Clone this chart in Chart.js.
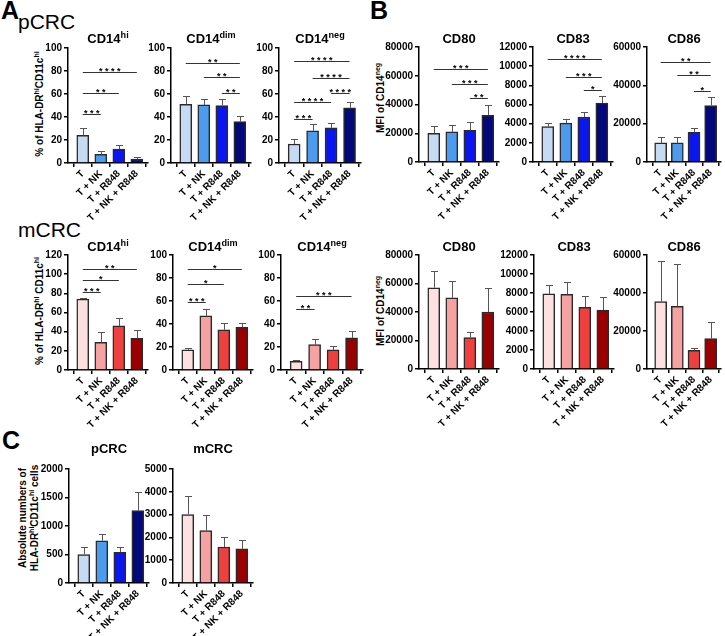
<!DOCTYPE html>
<html>
<head>
<meta charset="utf-8">
<script src="https://cdn.jsdelivr.net/npm/chart.js@4.4.0/dist/chart.umd.min.js"></script>
<style>
  body { margin: 0; background: #fff; font-family: Arial, "Liberation Sans", sans-serif; }
  #fig { position: relative; width: 725px; height: 636px; overflow: hidden; }
  canvas { position: absolute; }
  .t { position: absolute; white-space: nowrap; color: #000; }
  .title { font-weight: bold; font-size: 13px; transform: translate(-50%, -100%); }
  .ylab { font-weight: bold; font-size: 10px; transform: translate(-50%, -50%) rotate(-90deg); text-align: center; line-height: 12px; }
  .letter { font-weight: bold; font-size: 25px; }
  .grp { font-size: 21px; }
  sup { font-size: 70%; line-height: 0; }
</style>
</head>
<body>
<div id="fig"></div>
<script>
const categories = ["T", "T + NK", "T + R848", "T + NK + R848"];
const blues = ["#c6daf4", "#4c9bef", "#0a16f2", "#03097c"];
const reds = ["#fde0e0", "#f7a2a2", "#f03f3f", "#9a0000"];

// row 1: pCRC
const pHiMean = [24, 7.5, 12, 3.5];
const pHiErr = [6.5, 3, 3.5, 2];
const pHiSig = [[0, 1, 43, "* * *"], [0, 2, 61, "* *"], [0, 3, 79, "* * * *"]];
const pDimMean = [51, 50.5, 50, 36];
const pDimErr = [7.5, 5.5, 5.5, 5];
const pDimSig = [[0, 3, 87, "* *"], [1, 3, 75, "* *"], [2, 3, 61, "* *"]];
const pNegMean = [16.5, 28, 30.5, 48];
const pNegErr = [4, 5.5, 4.5, 5];
const pNegSig = [[0, 3, 88.5, "* * * *"], [1, 3, 74, "* * * *"], [2, 3, 61, "* * * *"], [0, 2, 53, "* * * *"], [0, 1, 38, "* * *"]];
const pCD80Mean = [20000, 21000, 22000, 32500];
const pCD80Err = [5000, 5000, 6000, 7000];
const pCD80Sig = [[0, 3, 64700, "* * *"], [1, 3, 54000, "* * *"], [2, 3, 44200, "* *"]];
const pCD83Mean = [3700, 4050, 4700, 6150];
const pCD83Err = [400, 450, 550, 700];
const pCD83Sig = [[0, 3, 10740, "* * * *"], [1, 3, 8890, "* * *"], [2, 3, 7520, "*"]];
const pCD86Mean = [10000, 10000, 15500, 29500];
const pCD86Err = [3000, 3000, 2500, 4500];
const pCD86Sig = [[0, 3, 52150, "* *"], [1, 3, 45300, "* *"], [2, 3, 37300, "*"]];

// row 2: mCRC
const mHiMean = [74, 29, 46, 33];
const mHiErr = [1.5, 10.5, 8, 8.5];
const mHiSig = [[0, 1, 81.7, "* * *"], [0, 2, 94, "*"], [0, 3, 105, "* *"]];
const mDimMean = [17.5, 47, 35, 37];
const mDimErr = [1.3, 6, 6, 4];
const mDimSig = [[0, 1, 59, "* * *"], [0, 2, 74.6, "*"], [0, 3, 88, "*"]];
const mNegMean = [7.5, 22, 17.5, 28];
const mNegErr = [1, 5, 3.5, 5.5];
const mNegSig = [[0, 1, 53, "* *"], [0, 3, 64, "* * *"]];
const mCD80Mean = [57000, 50000, 22000, 40000];
const mCD80Err = [11500, 11500, 4000, 17000];
const mCD83Mean = [7900, 7850, 6500, 6200];
const mCD83Err = [900, 1300, 1150, 1350];
const mCD86Mean = [35500, 33000, 9800, 16000];
const mCD86Err = [21500, 22500, 1200, 8500];

// row 3: absolute numbers
const absPMean = [500, 740, 540, 1270];
const absPErr = [130, 120, 90, 330];
const absMMean = [3000, 2300, 1580, 1500];
const absMErr = [800, 700, 420, 380];

const fig = document.getElementById("fig");
const Y_W = 42, PAD_T = 6, X_H = 62, PAD_R = 4;

const overlay = {
  id: "overlay",
  afterDatasetsDraw(chart, args, opts) {
    const ctx = chart.ctx;
    const xs = chart.scales.x, ys = chart.scales.y;
    ctx.save();
    // error bars (upper only)
    ctx.strokeStyle = "#555";
    ctx.lineWidth = 1;
    opts.mean.forEach((m, i) => {
      const x = Math.round(xs.getPixelForValue(i)) + 0.5;
      const y0 = ys.getPixelForValue(m);
      const y1 = Math.round(ys.getPixelForValue(m + opts.err[i])) + 0.5;
      ctx.beginPath();
      ctx.moveTo(x, y0);
      ctx.lineTo(x, y1);
      ctx.moveTo(x - 3.5, y1);
      ctx.lineTo(x + 3.5, y1);
      ctx.stroke();
    });
    // significance brackets
    ctx.strokeStyle = "#333";
    ctx.fillStyle = "#000";
    ctx.font = "bold 9px Arial";
    ctx.textAlign = "center";
    ctx.textBaseline = "alphabetic";
    (opts.sig || []).forEach(([a, b, v, s]) => {
      const xa = xs.getPixelForValue(a), xb = xs.getPixelForValue(b);
      const y = Math.round(ys.getPixelForValue(v)) + 0.5;
      ctx.beginPath();
      ctx.moveTo(xa, y);
      ctx.lineTo(xb, y);
      ctx.stroke();
      ctx.fillText(s, (xa + xb) / 2, y + 1);
    });
    ctx.restore();
  }
};

function addText(html, cls, x, y) {
  const d = document.createElement("div");
  d.className = "t " + cls;
  d.style.left = x + "px";
  d.style.top = y + "px";
  d.innerHTML = html;
  fig.appendChild(d);
}

function makePanel(left, top, bottom, plotW, max, step, mean, err, colors, sig, title, titleY) {
  const plotH = bottom - top;
  const cv = document.createElement("canvas");
  const w = Y_W + plotW + PAD_R, h = PAD_T + plotH + X_H;
  cv.width = w; cv.height = h;
  cv.style.left = (left - Y_W) + "px";
  cv.style.top = (top - PAD_T) + "px";
  fig.appendChild(cv);
  addText(title, "title", left + plotW / 2, titleY);

  new Chart(cv, {
    type: "bar",
    data: {
      datasets: [{
        data: mean.map((v, i) => ({ x: i, y: v })),
        backgroundColor: colors,
        borderColor: "#2a2a2a",
        borderWidth: 1.5,
        barThickness: 12
      }]
    },
    options: {
      responsive: false,
      animation: false,
      layout: { padding: { top: PAD_T, right: PAD_R, left: 0, bottom: 0 } },
      plugins: {
        legend: { display: false },
        tooltip: { enabled: false },
        overlay: { mean, err, sig }
      },
      scales: {
        x: {
          type: "linear",
          offset: false,
          min: -0.82,
          max: 3.62,
          afterBuildTicks: s => { s.ticks = [0, 1, 2, 3].map(v => ({ value: v })); },
          afterFit: s => { s.height = X_H; },
          ticks: {
            autoSkip: false,
            callback: v => categories[v],
            minRotation: 45,
            maxRotation: 45,
            color: "#000",
            font: { family: "Arial", size: 10, weight: "bold" },
            padding: 1
          },
          grid: { drawOnChartArea: false, tickLength: 4, color: "#000", lineWidth: 1.5 },
          border: { color: "#000", width: 1.5 }
        },
        y: {
          min: 0,
          max: max,
          afterFit: s => { s.width = Y_W; },
          ticks: {
            stepSize: step,
            callback: v => String(v),
            color: "#000",
            font: { family: "Arial", size: 10, weight: "bold" },
            padding: 2
          },
          grid: { drawOnChartArea: false, tickLength: 4, color: "#000", lineWidth: 1.5 },
          border: { color: "#000", width: 1.5 }
        }
      }
    },
    plugins: [overlay]
  });
}

// panel letters and group names
addText("A", "letter", 1, -4);
addText("pCRC", "grp", 18, 10);
addText("B", "letter", 370, -4);
addText("mCRC", "grp", 18, 218);
addText("C", "letter", 2, 426);

// y-axis titles
addText("% of HLA-DR<sup>hi</sup>CD11c<sup>hi</sup>", "ylab", 40, 104);
addText("MFI of CD14<sup>neg</sup>", "ylab", 381, 98);
addText("% of HLA-DR<sup>hi</sup> CD11c<sup>hi</sup>", "ylab", 40, 311);
addText("MFI of CD14<sup>neg</sup>", "ylab", 381, 311);
addText("Absolute numbers of<br>HLA-DR<sup>hi</sup>CD11c<sup>hi</sup> cells", "ylab", 29, 518);

// row 1
makePanel(68, 46, 163, 80, 100, 20, pHiMean, pHiErr, blues, pHiSig, "CD14<sup>hi</sup>", 46);
makePanel(171, 46, 163, 80, 100, 20, pDimMean, pDimErr, blues, pDimSig, "CD14<sup>dim</sup>", 46);
makePanel(279, 46, 163, 82, 100, 20, pNegMean, pNegErr, blues, pNegSig, "CD14<sup>neg</sup>", 46);
makePanel(419, 45, 162, 80, 80000, 20000, pCD80Mean, pCD80Err, blues, pCD80Sig, "CD80", 46);
makePanel(533, 45, 162, 80, 12000, 2000, pCD83Mean, pCD83Err, blues, pCD83Sig, "CD83", 46);
makePanel(647, 45, 162, 74, 60000, 20000, pCD86Mean, pCD86Err, blues, pCD86Sig, "CD86", 46);

// row 2
makePanel(68, 253, 370, 80, 120, 20, mHiMean, mHiErr, reds, mHiSig, "CD14<sup>hi</sup>", 254);
makePanel(173, 253, 370, 80, 100, 20, mDimMean, mDimErr, reds, mDimSig, "CD14<sup>dim</sup>", 254);
makePanel(281, 253, 370, 82, 100, 20, mNegMean, mNegErr, reds, mNegSig, "CD14<sup>neg</sup>", 254);
makePanel(419, 253, 369, 80, 80000, 20000, mCD80Mean, mCD80Err, reds, [], "CD80", 254);
makePanel(534, 253, 369, 80, 12000, 2000, mCD83Mean, mCD83Err, reds, [], "CD83", 254);
makePanel(647, 253, 369, 74, 60000, 20000, mCD86Mean, mCD86Err, reds, [], "CD86", 254);

// row 3
makePanel(69, 467, 583, 80, 2000, 500, absPMean, absPErr, blues, [], "pCRC", 456);
makePanel(173, 467, 583, 80, 5000, 1000, absMMean, absMErr, reds, [], "mCRC", 456);
</script>
</body>
</html>
